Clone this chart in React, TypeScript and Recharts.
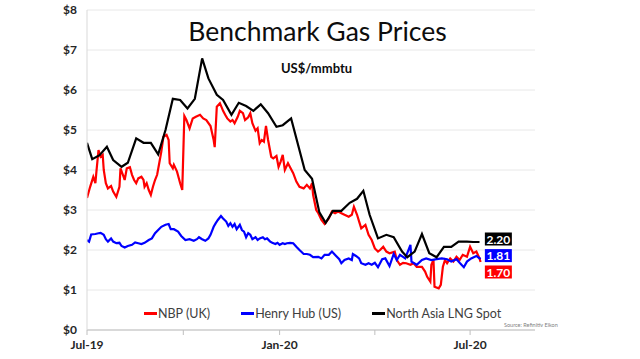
import { LineChart, Line, XAxis, YAxis, CartesianGrid, Legend, ReferenceDot } from "recharts";

// x = days since 1 Jul 2019, y = US$/mmbtu
const nbp: [number, number][] = [
  [0, 3.3], [3, 3.58], [6, 3.83], [8, 3.67], [9, 3.96], [11, 4.5], [13, 4.33], [15, 4.38], [16, 4.0], [18, 3.67],
  [20, 3.54], [23, 3.6], [25, 3.46], [28, 3.33], [31, 3.58], [32, 4.04], [35, 3.83], [36, 3.75], [38, 4.04], [41, 4.07],
  [43, 3.88], [45, 3.75], [47, 3.67], [49, 3.79], [52, 3.83], [54, 3.75], [55, 3.58], [57, 3.67], [59, 3.5], [61, 3.38],
  [63, 3.58], [65, 3.75], [67, 3.88], [69, 4.17], [71, 4.46], [73, 4.83], [76, 4.88], [78, 4.75], [79, 4.17], [82, 4.04],
  [83, 4.13], [86, 3.96], [89, 3.67], [91, 3.5], [93, 5.35], [95, 5.25], [98, 5.04], [101, 5.29], [104, 5.33], [108, 5.38],
  [111, 5.29], [114, 5.25], [118, 5.1], [121, 4.75], [122, 4.57], [124, 5.58], [127, 5.67], [130, 5.48], [132, 5.38], [134, 5.29],
  [137, 5.21], [139, 5.25], [141, 5.17], [144, 5.33], [146, 5.48], [149, 5.42], [151, 5.25], [154, 5.32], [156, 5.42], [158, 5.17],
  [161, 4.98], [163, 5.04], [165, 4.67], [167, 4.75], [169, 4.71], [171, 5.1], [173, 4.75], [176, 4.33], [178, 4.29], [181, 4.35],
  [183, 4.08], [185, 4.21], [187, 4.38], [189, 4.0], [192, 4.17], [197, 3.92], [200, 3.71], [203, 3.58], [207, 3.54], [210, 3.63],
  [213, 3.54], [215, 3.67], [216, 3.38], [219, 3.0], [221, 2.92], [224, 2.75], [227, 2.65], [231, 2.79], [234, 2.96], [237, 2.92],
  [240, 2.96], [243, 2.92], [246, 2.88], [250, 2.83], [253, 2.88], [255, 3.08], [258, 2.88], [260, 2.71], [262, 2.54], [266, 2.63],
  [269, 2.38], [272, 2.25], [275, 2.04], [278, 1.96], [280, 2.0], [283, 2.08], [286, 1.96], [289, 1.92], [294, 1.96], [296, 1.75],
  [299, 1.63], [302, 1.68], [305, 1.67], [309, 1.63], [312, 1.67], [315, 1.58], [320, 1.58], [323, 1.46], [325, 1.33], [328, 1.21],
  [329, 1.63], [331, 1.75], [332, 1.08], [336, 1.04], [338, 1.13], [340, 1.58], [342, 1.75], [344, 1.67], [347, 1.79], [350, 1.71],
  [353, 1.83], [356, 1.75], [359, 1.88], [363, 1.83], [366, 2.08], [369, 1.92], [372, 1.96], [375, 1.79], [376, 1.7],
];

const henryHub: [number, number][] = [
  [0, 2.25], [2, 2.21], [4, 2.39], [8, 2.4], [11, 2.42], [13, 2.43], [16, 2.38], [18, 2.27], [20, 2.21], [23, 2.29],
  [25, 2.21], [28, 2.17], [31, 2.18], [33, 2.1], [36, 2.06], [39, 2.1], [43, 2.13], [46, 2.19], [49, 2.17], [52, 2.15],
  [55, 2.18], [59, 2.25], [62, 2.29], [65, 2.42], [68, 2.5], [71, 2.58], [75, 2.63], [78, 2.65], [80, 2.52], [83, 2.52],
  [87, 2.46], [90, 2.35], [94, 2.25], [98, 2.27], [102, 2.23], [105, 2.27], [107, 2.32], [110, 2.27], [113, 2.23], [116, 2.29],
  [118, 2.38], [121, 2.58], [123, 2.67], [125, 2.75], [128, 2.85], [130, 2.79], [133, 2.71], [135, 2.6], [137, 2.67], [139, 2.58],
  [141, 2.65], [143, 2.52], [146, 2.63], [148, 2.5], [150, 2.46], [152, 2.32], [154, 2.42], [156, 2.38], [158, 2.27], [161, 2.32],
  [163, 2.25], [165, 2.29], [168, 2.32], [170, 2.27], [172, 2.29], [175, 2.21], [177, 2.18], [180, 2.15], [182, 2.18], [184, 2.13],
  [187, 2.17], [189, 2.15], [191, 2.17], [194, 2.18], [197, 2.17], [200, 2.08], [203, 2.0], [207, 1.9], [210, 1.9], [213, 1.88],
  [216, 1.82], [221, 1.83], [224, 1.79], [227, 1.88], [231, 1.88], [234, 1.96], [238, 1.85], [241, 1.77], [243, 1.67], [246, 1.75],
  [250, 1.79], [253, 1.75], [254, 1.9], [257, 1.85], [260, 1.79], [262, 1.67], [266, 1.63], [269, 1.67], [272, 1.63], [275, 1.68],
  [278, 1.57], [282, 1.77], [285, 1.79], [289, 1.6], [293, 1.9], [296, 1.75], [299, 1.88], [304, 1.79], [309, 2.13], [310, 1.71],
  [315, 1.63], [320, 1.75], [324, 1.79], [329, 1.75], [334, 1.77], [339, 1.79], [344, 1.77], [348, 1.71], [353, 1.77], [356, 1.68],
  [360, 1.57], [363, 1.71], [367, 1.79], [372, 1.85], [375, 1.79], [376, 1.81],
];

const lngSpot: [number, number][] = [
  [0, 4.68], [5, 4.27], [12, 4.37], [19, 4.58], [25, 4.25], [33, 4.08], [39, 4.18], [47, 4.79], [54, 4.68], [61, 4.68],
  [68, 4.39], [75, 5.0], [82, 5.78], [89, 5.75], [96, 5.54], [103, 5.78], [110, 6.79], [116, 6.29], [124, 5.88], [130, 5.75],
  [138, 5.38], [145, 5.68], [152, 5.6], [159, 5.48], [166, 5.64], [173, 5.42], [181, 5.08], [187, 5.12], [195, 5.29], [208, 4.0],
  [215, 3.78], [222, 2.94], [228, 2.68], [235, 2.98], [243, 2.98], [251, 3.18], [258, 3.28], [264, 3.48], [270, 2.88], [278, 2.29],
  [286, 2.38], [293, 2.32], [301, 1.96], [306, 1.82], [313, 1.96], [320, 2.4], [327, 1.92], [334, 1.82], [341, 2.08], [348, 2.08],
  [355, 2.21], [363, 2.21], [369, 2.2], [375, 2.2],
];

const yTicks = [0, 1, 2, 3, 4, 5, 6, 7, 8];
const xTicks = [0, 92, 184, 275, 366];
const xTickNames: Record<number, string> = { 0: "Jul-19", 184: "Jan-20", 366: "Jul-20" };
const lastValues = [2.2, 1.81, 1.7]; // LNG, Henry Hub, NBP

const toRows = (pts: [number, number][]) => pts.map(([d, v]) => ({ d, v }));

const FONT = "Lato, 'Open Sans', sans-serif";

const seriesList = [
  { name: "NBP (UK)", color: "#ff0000", data: toRows(nbp) },
  { name: "Henry Hub (US)", color: "#0000ff", data: toRows(henryHub) },
  { name: "North Asia LNG Spot", color: "#000000", data: toRows(lngSpot) },
];

const boxColors = ["#000000", "#0000ff", "#ff0000"];
const boxShift = [-3, -2, 10];

// keep the legend in series order (recharts sorts its payload by name)
function LegendBox() {
  return (
    <div style={{ display: "flex", alignItems: "center", gap: 31, fontFamily: FONT, fontSize: 12.5, color: "#404040", whiteSpace: "nowrap" }}>
      {seriesList.map((s) => (
        <span key={s.name} style={{ display: "flex", alignItems: "center" }}>
          <span style={{ display: "inline-block", width: 13, height: 3, background: s.color, marginRight: 1 }} />
          {s.name}
        </span>
      ))}
    </div>
  );
}

export default function App() {
  return (
    <div style={{ position: "absolute", left: 0, top: 0, width: 640, height: 359, background: "#fff" }}>
      <LineChart width={640} height={359} margin={{ top: 10, right: 105, bottom: 0, left: 0 }}>
        <CartesianGrid vertical={false} stroke="#e8e8e8" strokeWidth={1} />
        <XAxis
          dataKey="d"
          type="number"
          domain={[0, 428]}
          ticks={xTicks}
          tickFormatter={(t: number) => xTickNames[t] || ""}
          height={29}
          axisLine={{ stroke: "#bfbfbf" }}
          tickLine={{ stroke: "#bfbfbf" }}
          tickSize={5}
          tickMargin={5}
          tick={{ fill: "#262626", fontSize: 12, fontWeight: 700, fontFamily: FONT }}
          allowDataOverflow
        />
        <YAxis
          type="number"
          domain={[0, 8]}
          ticks={yTicks}
          width={87}
          tickFormatter={(t: number) => "$" + t}
          axisLine={{ stroke: "#d9d9d9" }}
          tickLine={false}
          tickSize={0}
          tickMargin={10}
          tick={{ fill: "#262626", fontSize: 12, fontWeight: 700, fontFamily: FONT }}
        />
        {seriesList.map((s) => (
          <Line
            key={s.name}
            data={s.data}
            dataKey="v"
            name={s.name}
            stroke={s.color}
            strokeWidth={2.2}
            dot={false}
            activeDot={false}
            type="linear"
            isAnimationActive={false}
          />
        ))}
        {lastValues.map((v, i) => (
          <ReferenceDot
            key={i}
            x={393}
            y={v}
            r={0}
            ifOverflow="visible"
            shape={(p: any) => (
              <g>
                <rect x={p.cx - 13.5} y={p.cy + boxShift[i] - 6.5} width={27} height={13} fill={boxColors[i]} />
                <text
                  x={p.cx}
                  y={p.cy + boxShift[i] + 4.5}
                  textAnchor="middle"
                  fill="#ffffff"
                  fontSize={12}
                  fontWeight={700}
                  fontFamily={FONT}
                >
                  {v.toFixed(2)}
                </text>
              </g>
            )}
          />
        ))}
        <Legend
          layout="horizontal"
          verticalAlign="middle"
          align="center"
          content={<LegendBox />}
          wrapperStyle={{ top: 306, left: 144, width: "auto" }}
        />
      </LineChart>
      <svg width={640} height={359} style={{ position: "absolute", left: 0, top: 0, pointerEvents: "none" }}>
        <text x={317.5} y={40.5} textAnchor="middle" fontSize={26.5} fontFamily={FONT} fill="#0d0d0d">
          Benchmark Gas Prices
        </text>
        <text x={316.5} y={72.7} textAnchor="middle" fontSize={13} fontWeight={700} fontFamily={FONT} fill="#0d0d0d">
          US$/mmbtu
        </text>
        <text x={504} y={326.5} fontSize={5.5} fontFamily={FONT} fill="#7f7f7f">
          Source: Refinitiv Eikon
        </text>
      </svg>
    </div>
  );
}
